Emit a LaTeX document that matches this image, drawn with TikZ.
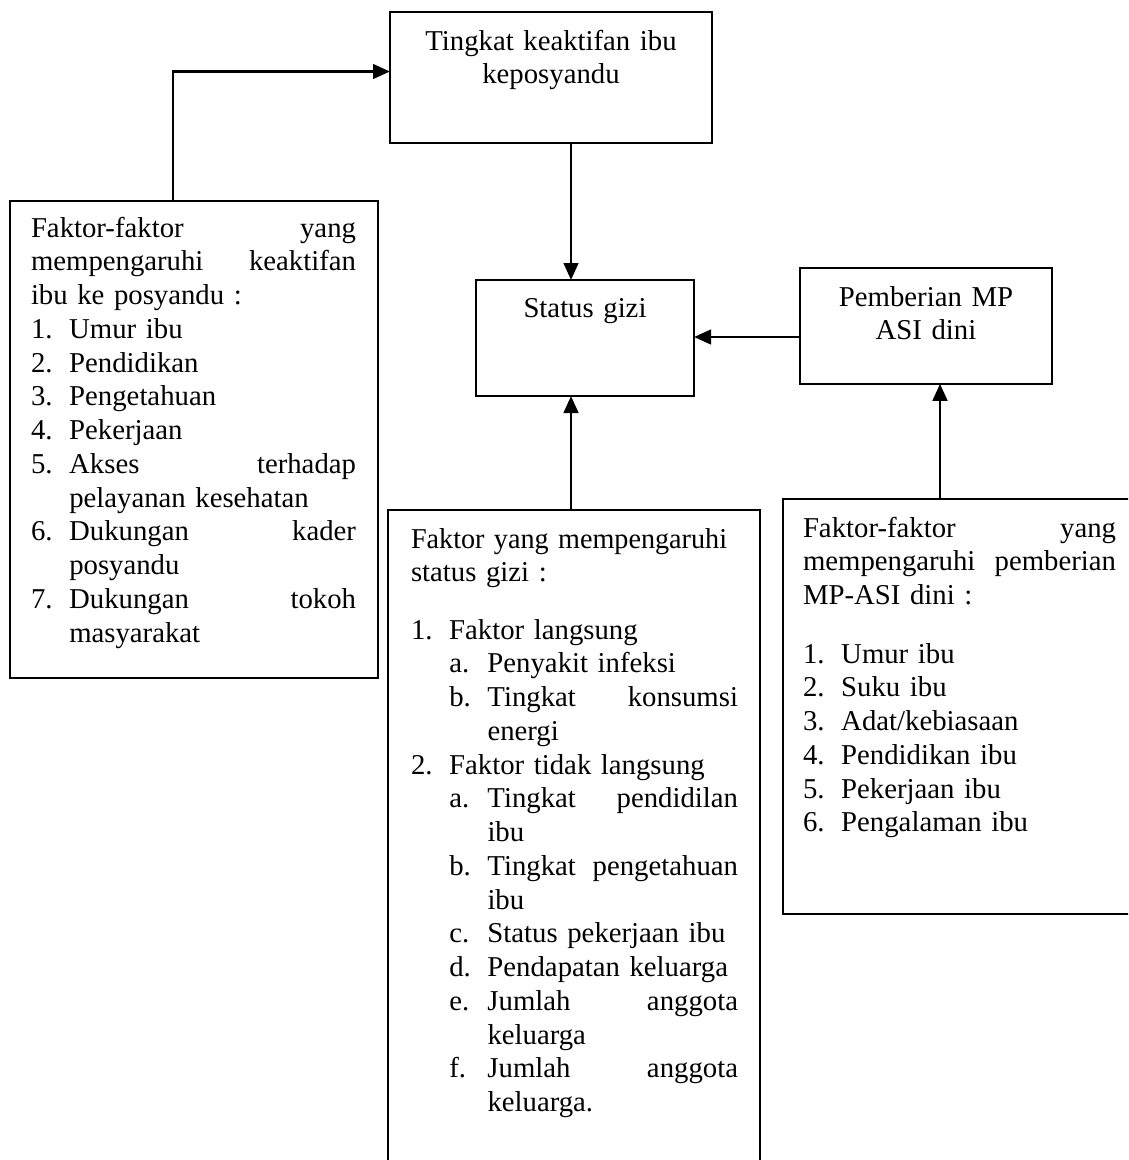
\documentclass[tikz,border=0pt]{standalone}
\usepackage{fontspec}
\setmainfont{Liberation Serif}
\usepackage{graphicx}
\usetikzlibrary{arrows.meta}
\setlength\parindent{0pt}
\newcommand\numbox[1]{\makebox[15.3pt][l]{#1}}
\newcommand\indbox{\hspace*{15.3pt}}
\newcommand\fullline[1]{\makebox[\hsize][l]{#1}}
\begin{document}
\begin{tikzpicture}[x=0.4pt,y=-0.4pt,
  box/.style={draw, line width=0.8pt, inner sep=0pt, outer sep=0pt},
  txt/.style={inner sep=0pt, outer sep=0pt, font=\fontsize{11.5}{13.5}\selectfont, align=left},
  arr/.style={line width=1.15pt, -{Triangle[length=6.8pt,width=5.8pt]}}]
\useasboundingbox (0,0) rectangle (1128,1160);
\clip (0,0) rectangle (1128,1160);
% boxes
\node[box, minimum width=128.8pt, minimum height=52.4pt] (T) at (551,77.5) {};
\node[box, minimum width=87.2pt, minimum height=46.4pt] (S) at (585,338) {};
\node[box, minimum width=100.8pt, minimum height=46.2pt] (P) at (926,326) {};
\node[box, minimum width=147.2pt, minimum height=191pt] (L) at (194,439.25) {};
\node[box, minimum width=148.8pt, minimum height=272pt] (M) at (574,850) {};
\node[box, minimum width=146.8pt, minimum height=166.2pt] (R) at (966.5,706.25) {};
% texts
\node[txt, anchor=north, align=center, text width=128pt] (Tt) at (551,26.4)
  {\strut Tingkat keaktifan ibu\\keposyandu};
\node[txt, anchor=north, align=center, text width=86pt] (St) at (585,293.4)
  {\strut Status gizi};
\node[txt, anchor=north, align=center, text width=100pt] (Pt) at (926,282.4)
  {\strut Pemberian MP\\ASI dini};
\node[txt, anchor=north west, text width=130pt] (Lt) at (31,213.4)
  {\strut\fullline{Faktor-faktor\hfill yang}\\
   \fullline{mempengaruhi\hfill keaktifan}\\
   ibu ke posyandu :\\
   \numbox{1.}Umur ibu\\
   \numbox{2.}Pendidikan\\
   \numbox{3.}Pengetahuan\\
   \numbox{4.}Pekerjaan\\
   \fullline{\numbox{5.}Akses\hfill terhadap}\\
   \indbox pelayanan kesehatan\\
   \fullline{\numbox{6.}Dukungan\hfill kader}\\
   \indbox posyandu\\
   \fullline{\numbox{7.}Dukungan\hfill tokoh}\\
   \indbox masyarakat};
\node[txt, anchor=north west, text width=130.8pt] (Mt) at (411,524.4)
  {\strut\scalebox{0.98}[1]{Faktor yang mempengaruhi}\\
   status gizi :\\[9.4pt]
   \numbox{1.}Faktor langsung\\
   \indbox\numbox{a.}Penyakit infeksi\\
   \fullline{\indbox\numbox{b.}Tingkat\hfill konsumsi}\\
   \indbox\indbox energi\\
   \numbox{2.}Faktor tidak langsung\\
   \fullline{\indbox\numbox{a.}Tingkat\hfill pendidilan}\\
   \indbox\indbox ibu\\
   \fullline{\indbox\numbox{b.}Tingkat\hfill pengetahuan}\\
   \indbox\indbox ibu\\
   \indbox\numbox{c.}Status pekerjaan ibu\\
   \indbox\numbox{d.}Pendapatan keluarga\\
   \fullline{\indbox\numbox{e.}Jumlah\hfill anggota}\\
   \indbox\indbox keluarga\\
   \fullline{\indbox\numbox{f.}Jumlah\hfill anggota}\\
   \indbox\indbox keluarga.};
\node[txt, anchor=north west, text width=125.2pt] (Rt) at (803,513.4)
  {\strut\fullline{Faktor-faktor\hfill yang}\\
   \fullline{mempengaruhi\hfill pemberian}\\
   MP-ASI dini :\\[9.9pt]
   \numbox{1.}Umur ibu\\
   \numbox{2.}Suku ibu\\
   \numbox{3.}Adat/kebiasaan\\
   \numbox{4.}Pendidikan ibu\\
   \numbox{5.}Pekerjaan ibu\\
   \numbox{6.}Pengalaman ibu};
% connectors
\draw[arr] ([xshift=-8.4pt]L.north) |- ([yshift=2.4pt]T.west);
\draw[arr] ([xshift=8pt]T.south) -- ([xshift=8pt]T.south |- S.north);
\draw[arr] ([xshift=-1.2pt]M.north) -- ([xshift=-1.2pt]M.north |- S.south);
\draw[arr] ([yshift=-4.4pt]P.west) -- ([yshift=-4.4pt]P.west -| S.east);
\draw[arr] ([xshift=-10.6pt]R.north) -- ([xshift=-10.6pt]R.north |- P.south);
\end{tikzpicture}
\end{document}
